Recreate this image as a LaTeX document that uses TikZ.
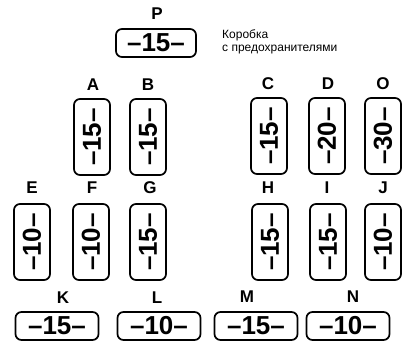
\documentclass[tikz,border=0pt]{standalone}
\usepackage{fontspec}
\setmainfont{Liberation Sans}
\usepackage{tikz}
\usetikzlibrary{positioning}

\begin{document}
\begin{tikzpicture}[
  x=1pt, y=-1pt,
  % Styles
  fuse/.style={draw,line width=1.7pt,rectangle,rounded corners=6pt,inner sep=0pt,
    font=\fontsize{26}{26}\selectfont\bfseries},
  hfuse/.style={fuse,minimum width=83pt,minimum height=28pt},
  vfuse/.style={fuse,rotate=90,minimum width=76pt,minimum height=36pt},
  letter/.style={inner sep=0pt,font=\fontsize{17}{17}\selectfont\bfseries},
  note/.style={inner sep=0pt,align=left,font=\fontsize{12}{13}\selectfont},
  ]
\useasboundingbox (0,0) rectangle (405,345);

%--- Fuse box P and caption ------------------------------------------
\node[hfuse, minimum width=80pt] (P) at (156,43) {–15–};
\node[letter] (labP) at (157,14) {P};
\node[note, anchor=north west] (caption) at (222,29) {Коробка\\с предохранителями};

%--- Upper row -------------------------------------------------------
\node[vfuse] (A) at (92,137) {–15–};
\node[vfuse] (B) at (148,137) {–15–};
\node[vfuse] (C) at (269,136) {–15–};
\node[vfuse] (D) at (327,136) {–20–};
\node[vfuse] (O) at (383,136) {–30–};

\node[letter] (labA) at (93,85) {A};
\node[letter] (labB) at (148,85) {B};
\node[letter] (labC) at (268,84) {C};
\node[letter] (labD) at (328,84) {D};
\node[letter] (labO) at (383,84) {O};

%--- Middle row ------------------------------------------------------
\node[vfuse] (E) at (32,242) {–10–};
\node[vfuse] (F) at (91,242) {–10–};
\node[vfuse] (G) at (148,242) {–15–};
\node[vfuse] (H) at (270,242) {–15–};
\node[vfuse] (I) at (328,242) {–15–};
\node[vfuse] (J) at (383,242) {–10–};

\node[letter] (labE) at (32,188) {E};
\node[letter] (labF) at (92,188) {F};
\node[letter] (labG) at (150,188) {G};
\node[letter] (labH) at (268,188) {H};
\node[letter] (labI) at (327,188) {I};
\node[letter] (labJ) at (383,188) {J};

%--- Lower row -------------------------------------------------------
\node[hfuse] (K) at (57,326) {–15–};
\node[hfuse] (L) at (159,326) {–10–};
\node[hfuse] (M) at (256,326) {–15–};
\node[hfuse] (N) at (348,326) {–10–};

\node[letter] (labK) at (63,298) {K};
\node[letter] (labL) at (157,298) {L};
\node[letter] (labM) at (247,297) {M};
\node[letter] (labN) at (353,297) {N};

\end{tikzpicture}
\end{document}
